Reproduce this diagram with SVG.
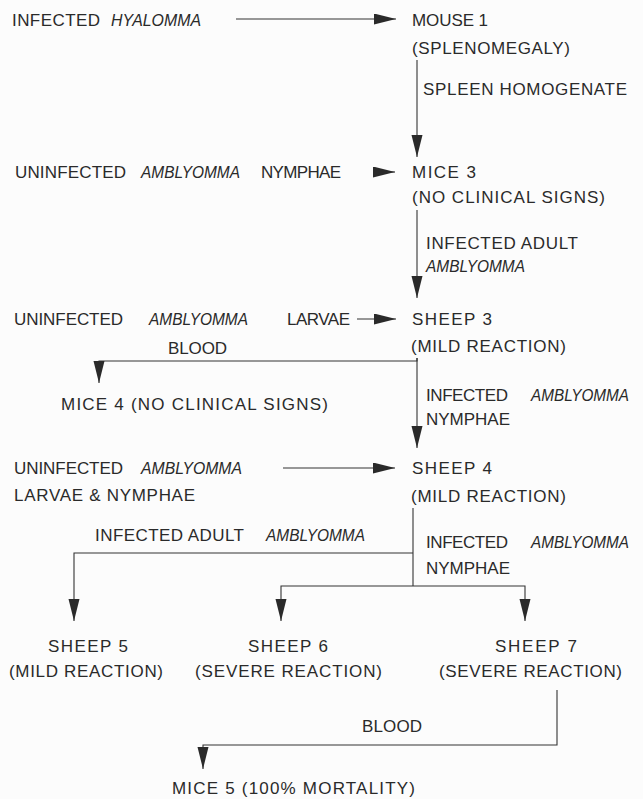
<svg xmlns="http://www.w3.org/2000/svg" width="643" height="799" viewBox="0 0 643 799">
<defs>
<marker id="ah" markerUnits="userSpaceOnUse" markerWidth="23" markerHeight="12" refX="22" refY="5.5" orient="auto"><path d="M0,0 L22,5.5 L0,11 z" fill="#2a2a2a"/></marker>
<style>
text{font-family:"Liberation Sans",Arial,sans-serif;font-size:17px;fill:#2a2a2a;}
text.i{font-style:italic;font-size:16.5px;}
.c line,.c path{stroke:#333;stroke-width:1.1;fill:none;}
</style>
</defs>
<rect width="643" height="799" fill="#fcfcfc"/>
<g class="c" id="connectors">
<line x1="236" y1="19" x2="396" y2="19" marker-end="url(#ah)"/>
<line x1="417" y1="60" x2="417" y2="157" marker-end="url(#ah)"/>
<line x1="380" y1="172" x2="395" y2="172" marker-end="url(#ah)"/>
<line x1="417" y1="210" x2="417" y2="298" marker-end="url(#ah)"/>
<line x1="357" y1="319" x2="396" y2="319" marker-end="url(#ah)"/>
<path d="M417,358 V361 H99 V383" marker-end="url(#ah)"/>
<line x1="417" y1="358" x2="417" y2="448" marker-end="url(#ah)"/>
<line x1="283" y1="468" x2="395" y2="468" marker-end="url(#ah)"/>
<line x1="413" y1="508" x2="413" y2="586"/>
<path d="M413,553 H74 V621" marker-end="url(#ah)"/>
<path d="M413,586 H281 V621" marker-end="url(#ah)"/>
<path d="M413,586 H525 V621" marker-end="url(#ah)"/>
<path d="M557,690 V745 H203 V769" marker-end="url(#ah)"/>
</g>
<g id="hyalomma"><text x="12" y="26" textLength="88" lengthAdjust="spacing">INFECTED</text><text class="i" x="111" y="26" textLength="90" lengthAdjust="spacingAndGlyphs">HYALOMMA</text></g>
<g id="mouse1"><text x="412" y="26" textLength="76" lengthAdjust="spacing">MOUSE 1</text><text x="412" y="54" textLength="158" lengthAdjust="spacing">(SPLENOMEGALY)</text></g>
<g id="lbl-spleen"><text x="423" y="95" textLength="204" lengthAdjust="spacing">SPLEEN HOMOGENATE</text></g>
<g id="uninf-nymphae"><text x="15" y="178" textLength="111" lengthAdjust="spacing">UNINFECTED</text><text class="i" x="141" y="178" textLength="99" lengthAdjust="spacingAndGlyphs">AMBLYOMMA</text><text x="261" y="178" textLength="80" lengthAdjust="spacing">NYMPHAE</text></g>
<g id="mice3"><text x="412" y="178" textLength="64" lengthAdjust="spacing">MICE 3</text><text x="412" y="203" textLength="193" lengthAdjust="spacing">(NO CLINICAL SIGNS)</text></g>
<g id="lbl-adult"><text x="426" y="249" textLength="152" lengthAdjust="spacing">INFECTED ADULT</text><text class="i" x="426" y="272" textLength="99" lengthAdjust="spacingAndGlyphs">AMBLYOMMA</text></g>
<g id="uninf-larvae"><text x="14" y="325" textLength="109" lengthAdjust="spacing">UNINFECTED</text><text class="i" x="149" y="325" textLength="99" lengthAdjust="spacingAndGlyphs">AMBLYOMMA</text><text x="287" y="325" textLength="63" lengthAdjust="spacing">LARVAE</text></g>
<g id="sheep3"><text x="412" y="325" textLength="80" lengthAdjust="spacing">SHEEP 3</text><text x="411" y="352" textLength="155" lengthAdjust="spacing">(MILD REACTION)</text></g>
<g id="lbl-blood1"><text x="168" y="354" textLength="59" lengthAdjust="spacing">BLOOD</text></g>
<g id="mice4"><text x="61" y="410" textLength="267" lengthAdjust="spacing">MICE 4 (NO CLINICAL SIGNS)</text></g>
<g id="lbl-nymphae1"><text x="426" y="401" textLength="82" lengthAdjust="spacing">INFECTED</text><text class="i" x="531" y="401" textLength="98" lengthAdjust="spacingAndGlyphs">AMBLYOMMA</text><text x="426" y="425" textLength="84" lengthAdjust="spacing">NYMPHAE</text></g>
<g id="uninf-ln"><text x="14" y="474" textLength="109" lengthAdjust="spacing">UNINFECTED</text><text class="i" x="141" y="474" textLength="101" lengthAdjust="spacingAndGlyphs">AMBLYOMMA</text><text x="14" y="501" textLength="181" lengthAdjust="spacing">LARVAE &amp; NYMPHAE</text></g>
<g id="sheep4"><text x="412" y="474" textLength="80" lengthAdjust="spacing">SHEEP 4</text><text x="411" y="502" textLength="155" lengthAdjust="spacing">(MILD REACTION)</text></g>
<g id="lbl-adult2"><text x="95" y="541" textLength="149" lengthAdjust="spacing">INFECTED ADULT</text><text class="i" x="266" y="541" textLength="99" lengthAdjust="spacingAndGlyphs">AMBLYOMMA</text></g>
<g id="lbl-nymphae2"><text x="426" y="548" textLength="82" lengthAdjust="spacing">INFECTED</text><text class="i" x="531" y="548" textLength="98" lengthAdjust="spacingAndGlyphs">AMBLYOMMA</text><text x="426" y="574" textLength="84" lengthAdjust="spacing">NYMPHAE</text></g>
<g id="sheep5"><text x="48" y="652" textLength="80" lengthAdjust="spacing">SHEEP 5</text><text x="9" y="677" textLength="154" lengthAdjust="spacing">(MILD REACTION)</text></g>
<g id="sheep6"><text x="248" y="652" textLength="80" lengthAdjust="spacing">SHEEP 6</text><text x="195" y="677" textLength="187" lengthAdjust="spacing">(SEVERE REACTION)</text></g>
<g id="sheep7"><text x="495" y="652" textLength="82" lengthAdjust="spacing">SHEEP 7</text><text x="439" y="677" textLength="183" lengthAdjust="spacing">(SEVERE REACTION)</text></g>
<g id="lbl-blood2"><text x="362" y="732" textLength="60" lengthAdjust="spacing">BLOOD</text></g>
<g id="mice5"><text x="172" y="794" textLength="243" lengthAdjust="spacing">MICE 5 (100% MORTALITY)</text></g>
</svg>
